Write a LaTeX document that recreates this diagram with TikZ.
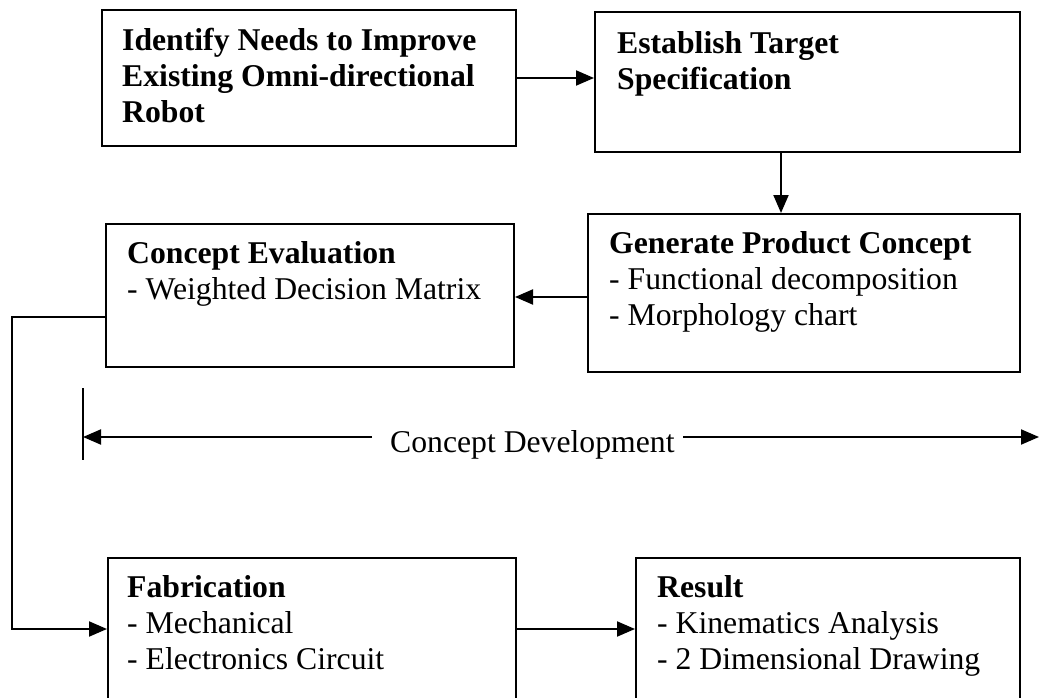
\documentclass[tikz,border=0pt]{standalone}
\usepackage{fontspec}
\setmainfont{Liberation Serif}
\usetikzlibrary{arrows.meta}
\newcommand{\fl}{\rule{0pt}{25pt}}
\tikzset{
  box/.style={draw, line width=2pt, inner sep=0pt, anchor=north west},
  txt/.style={anchor=north west, inner sep=0pt, align=left, font=\fontsize{31.7}{36}\selectfont},
  arr/.style={line width=2pt, -{Triangle[length=18pt,width=15pt]}},
  ln/.style={line width=2pt}
}
\begin{document}
\begin{tikzpicture}[x=1pt,y=-1pt]
\useasboundingbox (0,0) rectangle (1039,698);
\clip (0,0) rectangle (1039,698);
% boxes
\node[box, minimum width=414pt, minimum height=136pt] (needs) at (101,9) {};
\node[box, minimum width=425pt, minimum height=140pt] (target) at (594,11) {};
\node[box, minimum width=432pt, minimum height=158pt] (gen) at (587,213) {};
\node[box, minimum width=408pt, minimum height=143pt] (eval) at (105,223) {};
\node[box, minimum width=408pt, minimum height=170pt] (fab) at (107,557) {};
\node[box, minimum width=384pt, minimum height=170pt] (res) at (635,557) {};
% texts
\node[txt] (tneeds) at (122,25) {\fl\textbf{Identify Needs to Improve}\\\textbf{Existing Omni-directional}\\\textbf{Robot}};
\node[txt] (ttarget) at (617,28) {\fl\textbf{Establish Target}\\\textbf{Specification}};
\node[txt] (tgen) at (609,228) {\fl\textbf{Generate Product Concept}\\- Functional decomposition\\- Morphology chart};
\node[txt] (teval) at (127,238) {\fl\textbf{Concept Evaluation}\\- Weighted Decision Matrix};
\node[txt] (tfab) at (127,572) {\fl\textbf{Fabrication}\\- Mechanical\\- Electronics Circuit};
\node[txt] (tres) at (657,572) {\fl\textbf{Result}\\- Kinematics Analysis\\- 2 Dimensional Drawing};
\node[anchor=base west, inner sep=0pt, font=\fontsize{31.7}{36}\selectfont] (cd) at (390,452) {Concept Development};
% helper coordinates
\coordinate (xdown) at (781,0);
\coordinate (ygen) at (0,297);
\coordinate (jA) at (12,317);
\coordinate (jB) at (12,629);
\coordinate (tickT) at (83,388);
\coordinate (tickB) at (83,460);
\coordinate (tickM) at (83,437);
\coordinate (cdL) at (372,437);
\coordinate (cdR) at (683,437);
\coordinate (edge) at (1039,437);
% connectors
\draw[arr] (needs.east) -- (needs.east -| target.west);
\draw[arr] (target.south -| xdown) -- (gen.north -| xdown);
\draw[arr] (gen.west |- ygen) -- (eval.east |- ygen);
\draw[arr] (eval.west |- jA) -- (jA) -- (jB) -- (fab.west |- jB);
\draw[arr] (fab.east |- jB) -- (res.west |- jB);
% concept development span
\draw[ln] (tickT) -- (tickB);
\draw[arr] (cdL) -- (tickM);
\draw[arr] (cdR) -- (edge);
\end{tikzpicture}
\end{document}
